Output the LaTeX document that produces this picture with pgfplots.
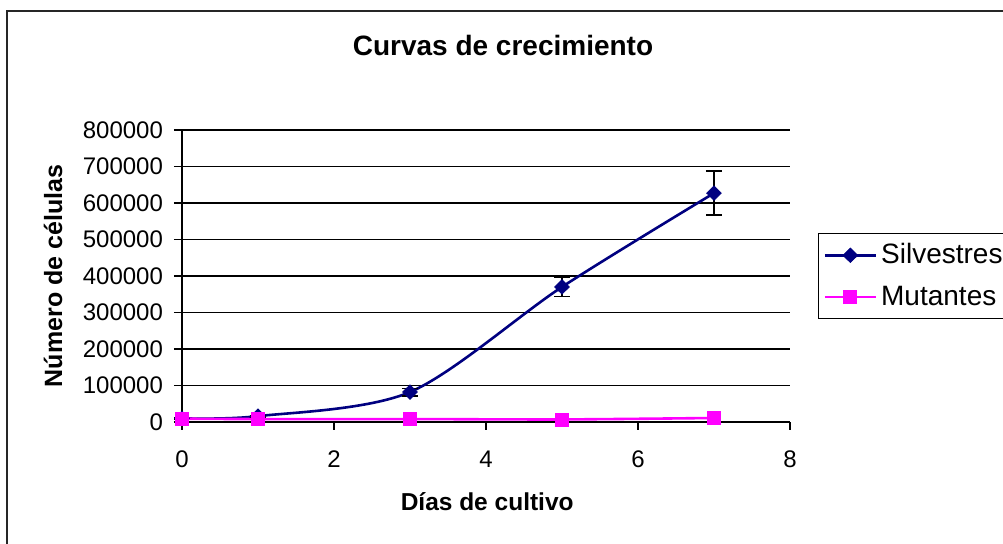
\documentclass[border=0pt]{standalone}
\usepackage{pgfplots}
\pgfplotsset{compat=1.18}
\usepackage{fontspec}
\setmainfont{Liberation Sans}
\definecolor{navyline}{RGB}{0,0,128}
\definecolor{magline}{RGB}{255,0,255}
\begin{document}
\begin{tikzpicture}
\useasboundingbox (0pt,0pt) rectangle (501.5pt,272pt);
\clip (0pt,0pt) rectangle (501.5pt,272pt);
\fill[white] (0pt,0pt) rectangle (501.5pt,272pt);
\draw[line width=1pt,black!85] (3.5pt,-5pt) -- (3.5pt,266.5pt) -- (520pt,266.5pt);
\begin{axis}[
  at={(91pt,61pt)}, anchor=south west,
  scale only axis, width=304pt, height=146pt,
  xmin=0, xmax=8, ymin=0, ymax=800000,
  xtick={0,2,4,6,8},
  ytick={0,100000,...,800000},
  scaled y ticks=false,
  /pgf/number format/.cd, fixed, 1000 sep={}, assume math mode=true, /pgfplots/.cd,
  axis x line*=bottom, axis y line*=left,
  axis line style={black, line width=0.6pt, -},
  tick align=outside, major tick length=4pt,
  tick style={black, line width=0.6pt},
  ymajorgrids, grid style={black, line width=0.6pt},
  ticklabel style={font=\fontsize{12}{14}\selectfont},
  xticklabel style={yshift=-7pt},
  yticklabel style={xshift=-2pt},
  clip=false,
  title={Curvas de crecimiento},
  title style={font=\fontsize{14}{16}\selectfont\bfseries, at={(axis description cs:0.528,1.25)}, anchor=center},
  xlabel={Días de cultivo},
  ylabel={Número de células},
  every axis x label/.style={at={(axis description cs:0.502,-0.274)}, anchor=center, font=\fontsize{12.25}{14}\selectfont\bfseries},
  every axis y label/.style={at={(axis description cs:-0.212,0.5)}, rotate=90, anchor=center, font=\fontsize{12.5}{14}\selectfont\bfseries},
  legend style={at={(axis description cs:1.046,0.647)}, anchor=north west, draw=black, line width=0.6pt,
    font=\fontsize{14}{16}\selectfont, row sep=5.5pt, inner xsep=2.5pt, inner ysep=3pt},
  legend cell align=left,
  legend image code/.code={\draw[mark repeat=2,mark phase=2] plot coordinates {(0pt,0pt)(12.75pt,0pt)(25.5pt,0pt)};},
]
\addplot[navyline, line width=1.3pt, smooth, mark=diamond*, mark size=3.6pt,
  mark options={xscale=1.35, solid, fill=navyline, line width=0.4pt},
  error bars/.cd, y dir=both, y explicit,
  error bar style={black, line width=0.8pt},
  error mark options={rotate=90, mark size=4pt, black, line width=0.8pt}]
  coordinates {
  (0,10000) +- (0,1500)
  (1,16000) +- (0,2000)
  (3,82000) +- (0,10000)
  (5,370000) +- (0,26000)
  (7,627000) +- (0,60000)
  };
\addlegendentry{Silvestres\hspace*{12pt}}
\addplot[magline, line width=1.3pt, smooth, mark=square*, mark size=3.25pt,
  mark options={solid, fill=magline, line width=0.4pt}]
  coordinates {
  (0,9000) (1,8000) (3,8000) (5,7000) (7,11000)
  };
\addlegendentry{Mutantes\hspace*{12pt}}
\end{axis}
\end{tikzpicture}
\end{document}
